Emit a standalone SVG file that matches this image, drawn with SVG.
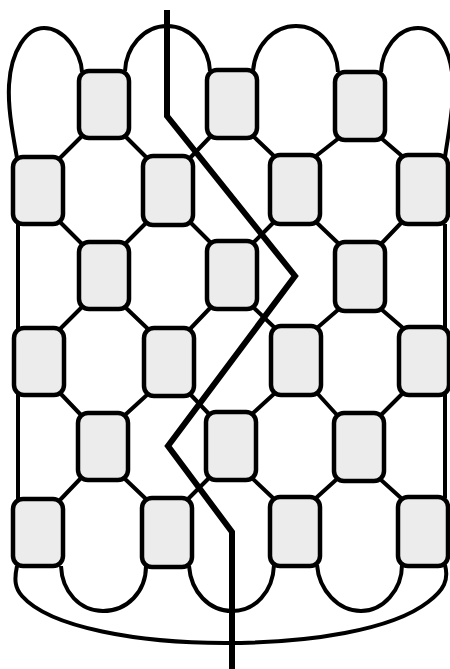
<svg xmlns="http://www.w3.org/2000/svg" width="450" height="669" viewBox="0 0 450 669">
<style>
.n{fill:#ececec;stroke:#000;stroke-width:4.5;}
.c{fill:none;stroke:#000;stroke-width:4;}
.t{fill:none;stroke:#000;stroke-width:6;}
</style>
<rect width="450" height="669" fill="#fff"/>
<g id="connectors">
<path class="c" d="M17 158C11 125 8 105 9 85C11 50 27 28 44 28C64 28 81 52 82 72"/>
<path class="c" d="M125 71C126 48 143 26 167 26C191 26 209 48 210 71"/>
<path class="c" d="M253 71C255 46 273 26 296 26C319 26 337 46 338 72"/>
<path class="c" d="M381 72C382 50 397 28 418 28C438 28 452 50 453 85C454 105 449 130 445 157"/>
<path class="c" d="M60 158L82 136M125 136L147 158M190 158L211 136M253 136L274 156M316 156L339 138M381 138L402 156"/>
<path class="c" d="M60 222L82 244M147 222L125 244M190 222L211 243M253 243L274 222M316 222L339 244M402 222L381 244"/>
<path class="c" d="M82 307L60 329M125 307L148 329M190 329L211 307M253 307L275 328M317 328L339 309M381 309L403 328"/>
<path class="c" d="M60 393L81 415M148 394L125 415M190 394L209 414M252 414L275 393M317 393L337 415M403 393L381 415"/>
<path class="c" d="M81 478L60 500M124 478L146 499M188 499L209 478M252 478L273 498M316 498L337 479M380 479L401 498"/>
<path class="c" d="M18 224V500M445 224V498"/>
<path class="c" d="M17 566C14 580 15 588 22 596C50 628 140 643 225 643C310 643 392 630 428 602C444 590 449 580 445 565"/>
<path class="c" d="M61 566C62 592 80 611 103 611C127 611 146 592 146 566"/>
<path class="c" d="M189 566C191 592 209 611 232 611C255 611 273 592 274 565"/>
<path class="c" d="M317 565C319 590 338 611 361 611C383 611 402 590 402 565"/>
</g>
<g id="row1">
<g id="n1"><rect class="n" x="79" y="71" width="50" height="67" rx="10"/></g>
<g id="n2"><rect class="n" x="207" y="70" width="50" height="68" rx="10"/></g>
<g id="n3"><rect class="n" x="335" y="72" width="50" height="68" rx="10"/></g>
</g>
<g id="row2">
<g id="n4"><rect class="n" x="13" y="157" width="50" height="67" rx="10"/></g>
<g id="n5"><rect class="n" x="143" y="156" width="50" height="69" rx="10"/></g>
<g id="n6"><rect class="n" x="270" y="155" width="50" height="69" rx="10"/></g>
<g id="n7"><rect class="n" x="398" y="155" width="50" height="69" rx="10"/></g>
</g>
<g id="row3">
<g id="n8"><rect class="n" x="79" y="242" width="50" height="67" rx="10"/></g>
<g id="n9"><rect class="n" x="207" y="241" width="50" height="68" rx="10"/></g>
<g id="n10"><rect class="n" x="335" y="242" width="50" height="69" rx="10"/></g>
</g>
<g id="row4">
<g id="n11"><rect class="n" x="14" y="328" width="50" height="67" rx="10"/></g>
<g id="n12"><rect class="n" x="144" y="328" width="50" height="68" rx="10"/></g>
<g id="n13"><rect class="n" x="271" y="326" width="50" height="69" rx="10"/></g>
<g id="n14"><rect class="n" x="399" y="327" width="50" height="68" rx="10"/></g>
</g>
<g id="row5">
<g id="n15"><rect class="n" x="78" y="413" width="50" height="67" rx="10"/></g>
<g id="n16"><rect class="n" x="206" y="412" width="50" height="68" rx="10"/></g>
<g id="n17"><rect class="n" x="334" y="413" width="50" height="68" rx="10"/></g>
</g>
<g id="row6">
<g id="n18"><rect class="n" x="13" y="499" width="50" height="67" rx="10"/></g>
<g id="n19"><rect class="n" x="142" y="498" width="50" height="69" rx="10"/></g>
<g id="n20"><rect class="n" x="270" y="497" width="50" height="69" rx="10"/></g>
<g id="n21"><rect class="n" x="398" y="497" width="50" height="69" rx="10"/></g>
</g>
<g id="cut">
<path class="t" d="M167 10V116L295 276L168 446L232 532V669"/>
</g>
</svg>
